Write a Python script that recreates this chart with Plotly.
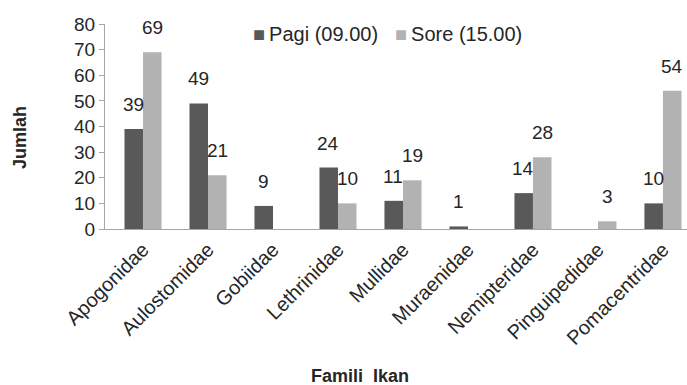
import plotly.graph_objects as go

famili = ["Apogonidae", "Aulostomidae", "Gobiidae", "Lethrinidae", "Mullidae",
          "Muraenidae", "Nemipteridae", "Pinguipedidae", "Pomacentridae"]
pagi = [39, 49, 9, 24, 11, 1, 14, 0, 10]
sore = [69, 21, 0, 10, 19, 0, 28, 3, 54]
series_names = ["Pagi (09.00)", "Sore (15.00)"]

dark = "#595959"
light = "#b2b2b2"
txt = "#262626"
font = "Liberation Sans, Arial, sans-serif"

fig = go.Figure()
fig.add_trace(go.Bar(name=series_names[0], x=famili, y=pagi, marker_color=dark,
                     marker_line_width=0, showlegend=False))
fig.add_trace(go.Bar(name=series_names[1], x=famili, y=sore, marker_color=light,
                     marker_line_width=0, showlegend=False))

# value labels above each non-zero bar
bar_half = 9.5
for i, name in enumerate(famili):
    for vals, shift in ((pagi, -bar_half), (sore, bar_half)):
        v = vals[i]
        if v > 0:
            fig.add_annotation(x=name, y=v, xref="x", yref="y", text=str(v),
                               showarrow=False, xshift=shift, yshift=12,
                               yanchor="bottom",
                               font=dict(size=19, color=txt, family=font))

# compact legend: coloured square glyph followed by the series name
for name, col, lx in ((series_names[0], dark, 0.250), (series_names[1], light, 0.494)):
    fig.add_annotation(xref="paper", yref="paper", x=lx, y=0.951, xanchor="left",
                       yanchor="middle", showarrow=False,
                       text=f"<span style='color:{col}'>■</span>\u2009{name}",
                       font=dict(size=20, color=txt, family=font))

# axis titles
fig.add_annotation(xref="paper", yref="paper", x=-0.146, y=0.444, textangle=-90,
                   xanchor="center", yanchor="middle", showarrow=False,
                   text="<b>Jumlah</b>", font=dict(size=18, color=txt, family=font))
fig.add_annotation(xref="paper", yref="paper", x=0.438, y=-0.717,
                   xanchor="center", yanchor="middle", showarrow=False,
                   text="<b>Famili  Ikan</b>", font=dict(size=18, color=txt, family=font))

fig.update_layout(
    width=687, height=385,
    margin=dict(l=105, r=0, t=24, b=156),
    paper_bgcolor="white", plot_bgcolor="white",
    barmode="group", bargap=0.43, bargroupgap=0,
    font=dict(family=font, color=txt),
    showlegend=False,
)
fig.update_xaxes(
    range=[-0.585, 8.37], tickangle=-45, showline=True, linecolor="#a6a6a6",
    linewidth=1, ticks="", tickfont=dict(size=20, color=txt, family=font),
)
fig.update_yaxes(
    range=[0, 80], dtick=10, showline=True, linecolor="#a6a6a6", linewidth=1,
    ticks="outside", ticklen=5, tickcolor="#a6a6a6", showgrid=False,
    zeroline=False, tickfont=dict(size=19, color=txt, family=font),
)

fig.write_html("out.html")
